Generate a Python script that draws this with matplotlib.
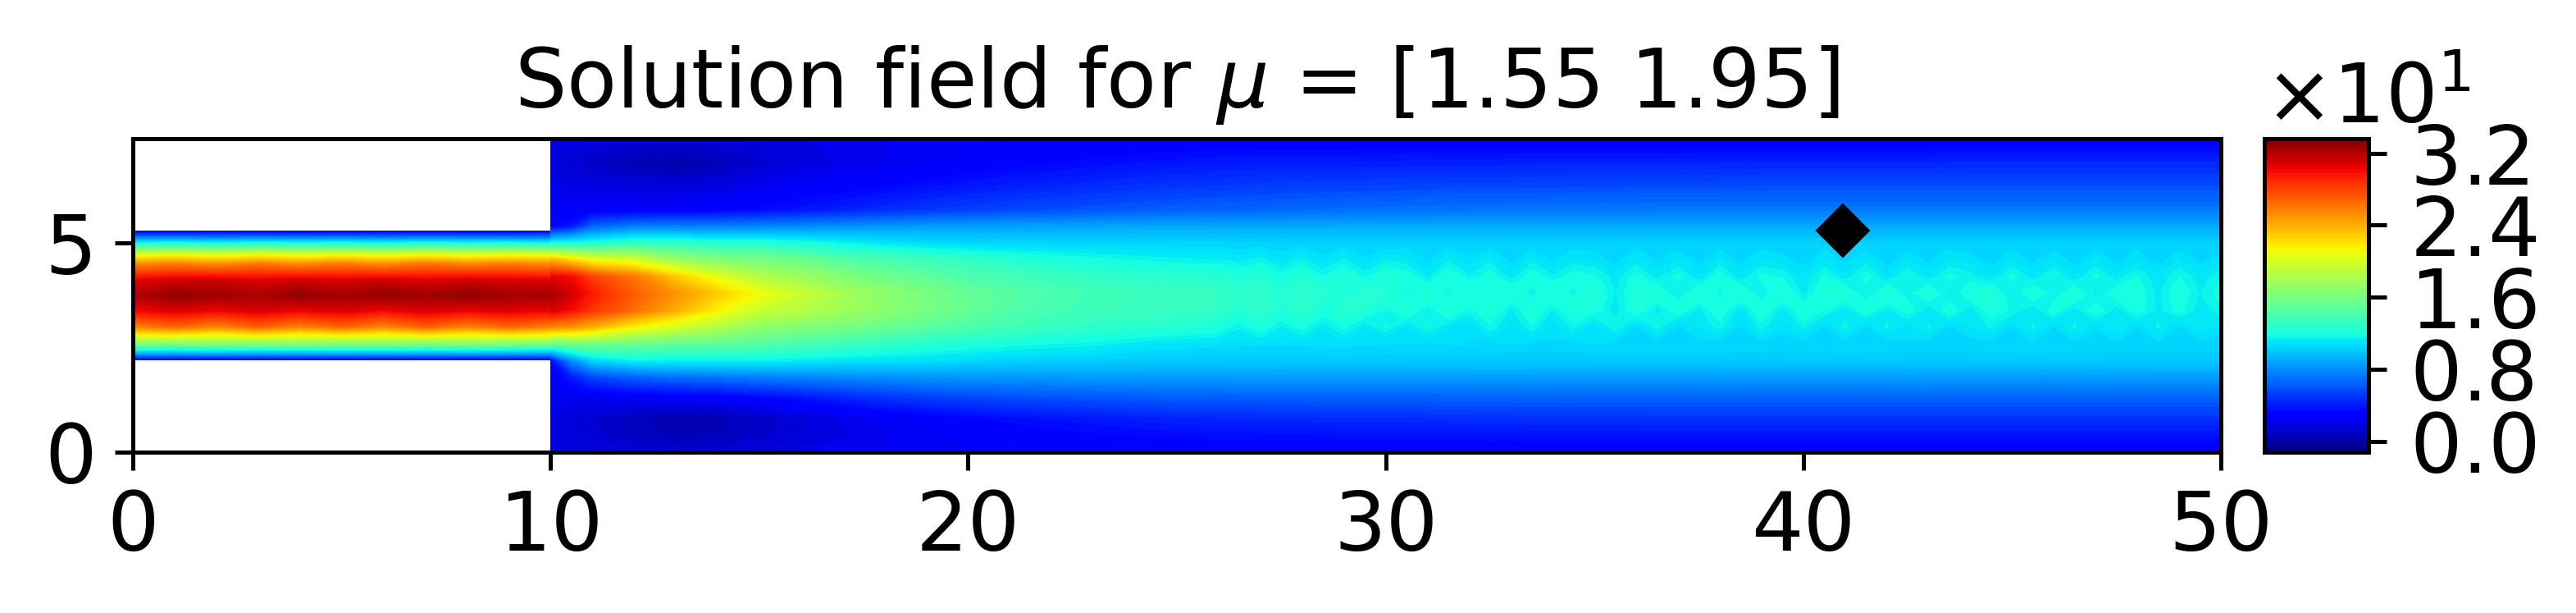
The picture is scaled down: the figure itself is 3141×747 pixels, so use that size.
import numpy as np
import matplotlib
matplotlib.use("Agg")
import matplotlib.pyplot as plt
from matplotlib.ticker import ScalarFormatter

W, H, DPI = 3141, 747, 450
FS = 16

title_text = r"Solution field for $\mu$ = [1.55 1.95]"
x_ticks = [0, 10, 20, 30, 40, 50]
y_ticks = [0, 5]
cbar_ticks = [0, 8, 16, 24, 32]
v_min, v_max = -1.2, 33.6
probe_x, probe_y = [40.95], [5.3]

# inlet channel (rows = y, columns = x)
inlet_x = [0, 1, 2, 3, 4, 5, 6, 7, 8, 9, 10]
inlet_y = [2.2, 2.35, 2.6, 2.8, 3.0, 3.4, 3.75, 4.1, 4.5, 4.7, 4.9, 5.15, 5.3]
inlet_v = [
    [2.5, 2.5, 2.5, 2.5, 2.5, 2.5, 2.5, 2.5, 2.5, 2.5, 2.6],
    [8.5, 8.4, 8.6, 8.4, 8.5, 8.6, 8.4, 8.5, 8.6, 8.4, 8.3],
    [16.5, 16.3, 16.7, 16.4, 16.7, 16.4, 16.6, 16.3, 16.7, 16.4, 16.0],
    [21.0, 21.4, 20.8, 21.5, 20.9, 21.4, 20.8, 21.5, 20.9, 21.3, 21.0],
    [25.5, 26.6, 25.4, 26.8, 25.5, 26.7, 25.4, 26.8, 25.5, 26.6, 25.6],
    [30.2, 30.9, 30.3, 31.0, 30.4, 30.9, 30.2, 31.0, 30.5, 30.8, 30.4],
    [32.0, 32.9, 32.6, 32.2, 33.0, 32.4, 32.9, 32.5, 33.0, 32.4, 32.3],
    [30.7, 31.2, 31.4, 30.8, 31.3, 30.9, 31.4, 30.8, 31.3, 31.0, 30.9],
    [25.3, 25.9, 25.2, 26.1, 25.3, 26.0, 25.2, 26.2, 25.4, 25.9, 25.3],
    [21.0, 21.4, 20.8, 21.5, 20.9, 21.4, 20.8, 21.5, 20.9, 21.3, 21.0],
    [15.0, 15.2, 14.9, 15.3, 15.0, 15.2, 14.9, 15.3, 15.0, 15.2, 14.8],
    [7.0, 7.1, 6.9, 7.1, 7.0, 7.1, 6.9, 7.1, 7.0, 7.0, 7.0],
    [2.5, 2.5, 2.5, 2.5, 2.5, 2.5, 2.5, 2.5, 2.5, 2.5, 2.6],
]

# expansion and outlet channel
outlet_x = [10, 10.5, 11, 12, 13, 14, 15, 16, 17, 18, 19, 20,
            21.5, 23, 24.5, 26, 27.5, 29, 30.5, 32, 33.5, 35,
            36.5, 38, 39.5, 41, 42.5, 44, 45.5, 47, 48.5, 50]
outlet_y = [0, 0.4, 0.8, 1.3, 1.8, 2.2, 2.6, 3.0, 3.4, 3.8, 4.2, 4.6, 5.0, 5.4, 5.8, 6.4, 6.9, 7.5]
outlet_v = [
    [1.9, 1.8, 1.7, 1.5, 1.4, 1.5, 1.7, 1.9, 2.1, 2.3, 2.4, 2.5,
     2.6, 2.6, 2.6, 2.7, 2.7, 2.7, 2.7, 2.7, 2.7, 2.7, 2.7, 2.7, 2.7, 2.7, 2.7, 2.7, 2.7, 2.7, 2.7, 2.7],
    [1.9, 1.7, 1.4, 0.9, 0.5, 0.6, 1.1, 1.5, 1.9, 2.2, 2.5, 2.8,
     3.0, 3.2, 3.4, 3.5, 3.5, 3.6, 3.6, 3.6, 3.7, 3.7, 3.7, 3.7, 3.7, 3.7, 3.7, 3.7, 3.7, 3.7, 3.7, 3.7],
    [1.9, 1.6, 1.2, 0.6, 0.2, 0.3, 1.0, 1.5, 2.0, 2.4, 2.8, 3.2,
     3.6, 3.9, 4.2, 4.4, 4.5, 4.6, 4.6, 4.7, 4.7, 4.7, 4.8, 4.8, 4.8, 4.8, 4.8, 4.8, 4.8, 4.8, 4.8, 4.8],
    [2.0, 2.1, 2.3, 2.5, 2.6, 2.8, 3.2, 3.7, 4.3, 4.8, 5.2, 5.5,
     5.8, 6.0, 6.2, 6.3, 6.3, 6.4, 6.4, 6.4, 6.5, 6.5, 6.5, 6.5, 6.5, 6.5, 6.5, 6.5, 6.5, 6.5, 6.5, 6.5],
    [2.5, 4.0, 5.5, 6.5, 7.0, 7.2, 7.5, 7.7, 7.9, 8.1, 8.2, 8.3,
     8.4, 8.5, 8.5, 8.5, 8.6, 8.5, 8.5, 8.6, 8.6, 8.5, 8.5, 8.6, 8.5, 8.5, 8.6, 8.5, 8.5, 8.6, 8.5, 8.5],
    [3.5, 8.0, 10.5, 11.5, 11.5, 11.5, 11.5, 11.3, 11.0, 10.9, 10.8, 10.6,
     10.3, 10.2, 10.1, 10.0, 10.0, 10.1, 10.0, 10.0, 10.0, 10.0, 10.1, 10.0, 10.0, 10.1, 10.0, 10.0, 10.1, 10.0, 10.0, 10.0],
    [15.5, 15.8, 16.0, 15.5, 15.0, 15.0, 14.5, 14.0, 13.5, 13.0, 12.5, 12.2,
     11.8, 11.5, 11.0, 10.8, 10.7, 10.8, 10.6, 10.7, 10.5, 10.6, 10.5, 10.6, 10.5, 10.5, 10.5, 10.5, 10.5, 10.5, 10.5, 10.5],
    [25.5, 25.0, 24.0, 21.5, 20.0, 18.5, 17.0, 16.5, 16.0, 15.4, 14.8, 14.2,
     13.5, 12.9, 12.6, 12.2, 12.0, 11.5, 11.8, 11.0, 11.7, 10.9, 11.6, 10.8, 11.5, 10.8, 11.5, 10.8, 11.4, 10.8, 11.3, 10.8],
    [31.0, 30.0, 28.5, 26.5, 24.0, 21.5, 19.5, 18.6, 17.7, 16.8, 16.0, 15.2,
     14.1, 13.5, 13.3, 13.0, 12.9, 11.9, 12.6, 11.3, 12.4, 11.2, 12.3, 11.2, 12.2, 11.1, 12.2, 11.2, 12.0, 11.1, 12.0, 11.4],
    [32.5, 31.0, 29.5, 27.0, 25.0, 23.0, 21.0, 19.5, 18.0, 17.0, 16.0, 15.2,
     14.3, 13.7, 13.3, 13.2, 12.2, 12.9, 11.5, 12.6, 11.7, 12.3, 11.4, 12.4, 11.3, 12.2, 11.5, 12.4, 11.3, 12.1, 11.4, 11.8],
    [30.5, 30.0, 28.0, 26.0, 23.0, 20.5, 18.5, 17.5, 16.5, 15.5, 15.0, 14.2,
     13.6, 13.0, 12.8, 12.6, 12.5, 11.6, 12.3, 11.3, 12.2, 11.5, 11.9, 11.2, 11.9, 11.2, 11.8, 11.0, 11.9, 11.1, 11.8, 11.1],
    [24.0, 22.5, 21.0, 20.0, 17.5, 16.5, 16.0, 15.5, 14.5, 14.0, 13.5, 13.0,
     12.3, 11.9, 11.5, 11.3, 10.9, 11.5, 10.7, 11.4, 10.6, 11.3, 10.5, 11.2, 10.5, 11.2, 10.5, 11.0, 10.5, 11.1, 10.5, 11.0],
    [12.0, 12.0, 12.2, 13.0, 13.0, 12.5, 12.5, 12.0, 11.5, 11.0, 10.7, 10.5,
     10.4, 10.4, 10.4, 10.4, 10.3, 10.3, 10.3, 10.3, 10.3, 10.3, 10.3, 10.3, 10.3, 10.3, 10.3, 10.3, 10.3, 10.3, 10.3, 10.3],
    [3.0, 4.0, 6.5, 7.5, 7.5, 7.5, 7.7, 7.9, 8.1, 8.3, 8.5, 8.6,
     8.7, 8.8, 8.9, 8.9, 8.9, 9.0, 9.0, 9.0, 9.0, 9.0, 9.0, 9.0, 9.0, 9.0, 9.0, 9.0, 9.0, 9.0, 9.0, 9.0],
    [2.4, 2.5, 2.6, 2.7, 2.8, 3.0, 3.4, 3.8, 4.2, 4.6, 5.0, 5.3,
     5.7, 6.0, 6.3, 6.5, 6.7, 6.9, 7.0, 7.1, 7.2, 7.2, 7.3, 7.3, 7.3, 7.3, 7.3, 7.3, 7.3, 7.3, 7.3, 7.3],
    [2.0, 1.9, 1.8, 1.6, 1.5, 1.7, 2.2, 2.6, 2.9, 3.2, 3.5, 3.8,
     4.2, 4.5, 4.8, 5.0, 5.2, 5.3, 5.4, 5.5, 5.5, 5.6, 5.6, 5.6, 5.7, 5.7, 5.7, 5.7, 5.7, 5.7, 5.7, 5.7],
    [1.6, 1.4, 1.0, 0.4, 0.1, 0.5, 1.2, 1.7, 2.0, 2.2, 2.5, 2.9,
     3.2, 3.5, 3.8, 4.0, 4.1, 4.1, 4.2, 4.2, 4.3, 4.3, 4.3, 4.4, 4.4, 4.4, 4.4, 4.5, 4.5, 4.5, 4.5, 4.5],
    [1.9, 1.8, 1.7, 1.5, 1.4, 1.5, 1.7, 1.9, 2.1, 2.3, 2.4, 2.5,
     2.6, 2.6, 2.6, 2.7, 2.7, 2.7, 2.7, 2.7, 2.7, 2.7, 2.7, 2.7, 2.7, 2.7, 2.7, 2.7, 2.7, 2.7, 2.7, 2.7],
]

# finer reading of the mottled core of the outlet, x = 26 ... 50
core_x = [26, 26.5, 27, 27.5, 28, 28.5, 29, 29.5, 30, 30.5, 31, 31.5, 32, 32.5, 33, 33.5, 34,
          34.5, 35, 35.5, 36, 36.5, 37, 37.5, 38, 38.5, 39, 39.5, 40, 40.5, 41, 41.5, 42,
          42.5, 43, 43.5, 44, 44.5, 45, 45.5, 46, 46.5, 47, 47.5, 48, 48.5, 49, 49.5, 50]
core_y = [2.6, 3.0, 3.4, 3.8, 4.2, 4.6, 5.0]
core_v = [
    [10.8, 10.7, 10.9, 10.7, 10.8, 10.6, 10.8, 10.7, 10.6, 10.8, 10.5, 10.7, 10.6, 10.5, 10.7, 10.5, 10.6,
     10.5, 10.7, 10.5, 10.6, 10.4, 10.6, 10.5, 10.4, 10.6, 10.4, 10.5, 10.4, 10.6, 10.4, 10.5, 10.4,
     10.6, 10.4, 10.5, 10.4, 10.5, 10.4, 10.6, 10.4, 10.5, 10.4, 10.5, 10.4, 10.5, 10.4, 10.5, 10.4],
    [12.0, 11.4, 12.1, 11.3, 11.9, 11.1, 11.8, 11.0, 11.7, 10.9, 11.7, 11.0, 10.7, 11.6, 10.8, 11.6, 10.7,
     11.5, 10.7, 11.6, 10.6, 11.5, 10.6, 11.0, 11.5, 10.6, 11.5, 10.7, 11.4, 10.6, 11.5, 10.6, 11.4,
     10.7, 11.4, 10.6, 11.0, 11.4, 10.6, 11.4, 10.6, 11.4, 10.7, 11.3, 10.6, 11.4, 10.6, 11.3, 10.8],
    [12.9, 12.5, 12.9, 12.3, 12.8, 12.0, 12.7, 12.3, 11.6, 12.5, 11.3, 12.4, 11.5, 12.3, 11.2, 12.3, 11.3,
     12.2, 12.0, 11.1, 12.2, 11.2, 12.1, 11.2, 12.1, 11.0, 12.2, 11.1, 12.1, 11.7, 11.1, 12.1, 11.2,
     12.0, 11.0, 12.1, 11.1, 12.0, 11.6, 11.0, 12.0, 11.1, 12.1, 11.1, 12.0, 11.2, 11.9, 11.1, 11.6],
    [13.1, 12.8, 13.0, 12.4, 12.8, 12.6, 12.1, 12.7, 12.4, 11.6, 12.6, 11.5, 12.5, 11.7, 12.4, 11.4, 12.5,
     11.5, 12.4, 11.3, 12.2, 12.3, 11.3, 12.4, 11.5, 12.3, 11.3, 12.4, 11.2, 12.2, 12.3, 11.3, 12.4,
     11.4, 12.3, 11.2, 12.1, 12.3, 11.3, 12.2, 11.4, 12.3, 11.2, 12.1, 12.0, 11.2, 12.1, 11.3, 11.9],
    [12.6, 12.2, 12.5, 11.9, 12.4, 11.7, 12.3, 11.6, 12.2, 12.0, 11.2, 12.2, 11.4, 12.0, 11.1, 12.0, 11.4,
     11.9, 11.8, 11.1, 11.9, 11.2, 11.8, 11.0, 11.9, 11.1, 11.8, 11.6, 11.0, 11.8, 11.1, 11.9, 11.0,
     11.7, 11.1, 11.8, 11.5, 11.0, 11.8, 11.1, 11.7, 11.0, 11.8, 11.1, 11.7, 11.0, 11.7, 11.1, 11.6],
    [11.4, 11.2, 11.5, 10.9, 11.4, 10.8, 11.4, 10.7, 11.3, 11.1, 10.6, 11.3, 10.7, 11.2, 10.5, 11.2, 10.6,
     11.1, 10.9, 10.5, 11.1, 10.6, 11.0, 10.5, 11.1, 10.5, 11.0, 10.8, 10.4, 11.0, 10.5, 11.1, 10.4,
     11.0, 10.5, 11.0, 10.8, 10.4, 11.0, 10.5, 11.0, 10.4, 11.0, 10.5, 10.9, 10.4, 11.0, 10.5, 10.8],
    [10.4, 10.3, 10.4, 10.3, 10.4, 10.3, 10.4, 10.3, 10.3, 10.4, 10.3, 10.4, 10.3, 10.3, 10.4, 10.3, 10.3,
     10.4, 10.3, 10.3, 10.4, 10.3, 10.3, 10.4, 10.3, 10.3, 10.4, 10.3, 10.3, 10.4, 10.3, 10.3, 10.4,
     10.3, 10.3, 10.4, 10.3, 10.3, 10.4, 10.3, 10.3, 10.4, 10.3, 10.3, 10.4, 10.3, 10.3, 10.4, 10.3],
]

plt.rcParams["font.family"] = "DejaVu Sans"
plt.rcParams["font.size"] = FS

fig = plt.figure(figsize=(W / DPI, H / DPI), dpi=DPI)
L, R, T, B = 162, 2708, 169, 551
ax = fig.add_axes([L / W, 1 - B / H, (R - L) / W, (B - T) / H])
levels = np.linspace(v_min, v_max, 101)
ax.contourf(inlet_x, inlet_y, inlet_v, levels=levels, cmap="jet", vmin=v_min, vmax=v_max)
cs = ax.contourf(outlet_x, outlet_y, outlet_v, levels=levels, cmap="jet", vmin=v_min, vmax=v_max)
ax.contourf(core_x, core_y, core_v, levels=levels, cmap="jet", vmin=v_min, vmax=v_max)
ax.plot(probe_x, probe_y, marker="D", color="k", ms=6.6, ls="none", zorder=5)
ax.set_xlim(0, 50)
ax.set_ylim(0, 7.5)
ax.set_xticks(x_ticks)
ax.set_yticks(y_ticks)
ax.tick_params(labelsize=FS)
ax.set_title(title_text, fontsize=FS, pad=6)

CL, CR = 2761, 2888
cax = fig.add_axes([CL / W, 1 - B / H, (CR - CL) / W, (B - T) / H])
fmt = ScalarFormatter(useMathText=True)
fmt.set_powerlimits((0, 0))
cb = fig.colorbar(cs, cax=cax, ticks=cbar_ticks, format=fmt)
cb.ax.tick_params(labelsize=FS, pad=4.5)
off = cb.ax.yaxis.get_offset_text()
off.set_fontsize(FS)
off.set_x(0)
off.set_horizontalalignment("left")

fig.savefig("out.png", dpi=DPI)
